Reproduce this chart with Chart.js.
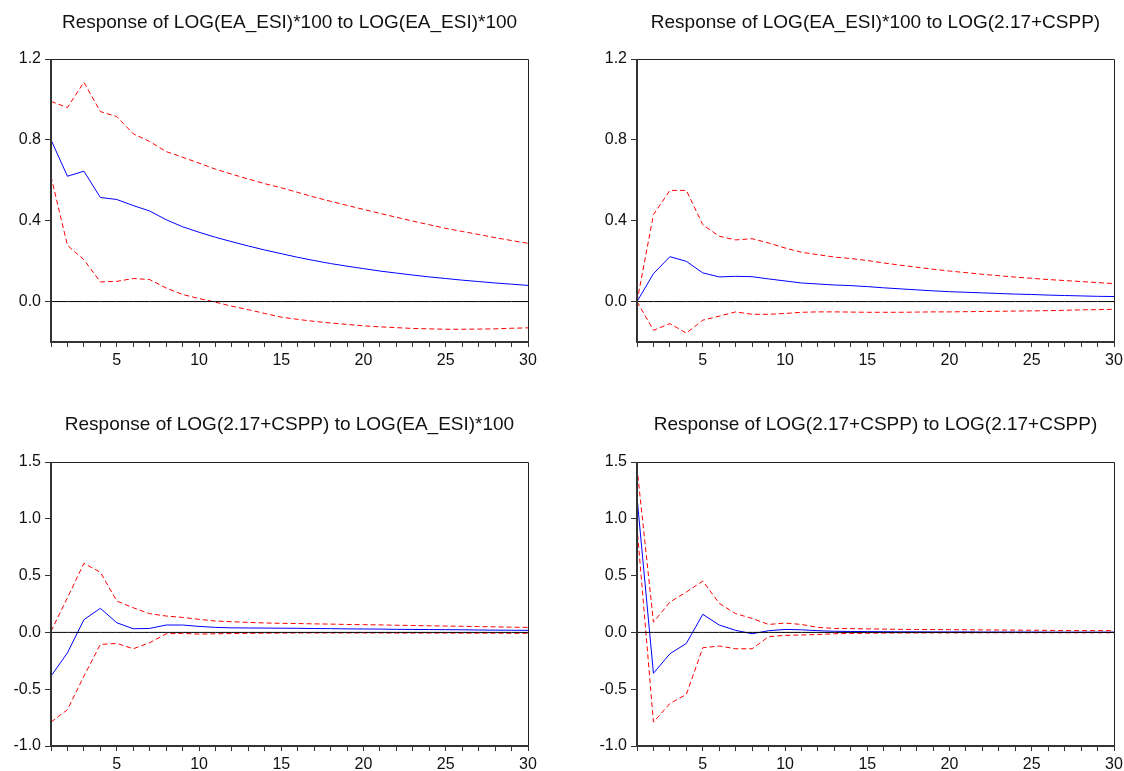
<!DOCTYPE html>
<html>
<head>
<meta charset="utf-8">
<script src="https://cdn.jsdelivr.net/npm/chart.js@4/dist/chart.umd.min.js"></script>
<style>
  body { margin: 0; background: #fff; }
  #page { position: relative; width: 1124px; height: 771px; background: #fff; overflow: hidden; }
  .panel { position: absolute; }
</style>
</head>
<body>
<div id="page"></div>
<script>
// periods of the impulse response
const periods = [1,2,3,4,5,6,7,8,9,10,11,12,13,14,15,16,17,18,19,20,21,22,23,24,25,26,27,28,29,30];

// LOG(EA_ESI)*100 to LOG(EA_ESI)*100
const esiEsiResp = [0.80, 0.62, 0.645, 0.515, 0.505, 0.475, 0.448, 0.405, 0.37, 0.343, 0.318, 0.296, 0.275, 0.255, 0.237, 0.219, 0.203, 0.188, 0.175, 0.163, 0.151, 0.141, 0.131, 0.122, 0.114, 0.106, 0.099, 0.092, 0.086, 0.08];
const esiEsiUpper = [0.99, 0.96, 1.085, 0.94, 0.915, 0.83, 0.792, 0.742, 0.714, 0.685, 0.655, 0.63, 0.606, 0.583, 0.563, 0.54, 0.517, 0.496, 0.476, 0.456, 0.436, 0.417, 0.398, 0.38, 0.362, 0.347, 0.332, 0.316, 0.302, 0.288];
const esiEsiLower = [0.619, 0.278, 0.207, 0.097, 0.10, 0.114, 0.109, 0.067, 0.035, 0.015, -0.003, -0.023, -0.04, -0.059, -0.077, -0.088, -0.098, -0.106, -0.113, -0.12, -0.125, -0.129, -0.133, -0.135, -0.137, -0.137, -0.136, -0.135, -0.132, -0.13];

// LOG(EA_ESI)*100 to LOG(2.17+CSPP)
const esiCsppResp = [0, 0.138, 0.222, 0.199, 0.142, 0.122, 0.125, 0.123, 0.112, 0.102, 0.092, 0.087, 0.082, 0.079, 0.074, 0.068, 0.063, 0.058, 0.053, 0.049, 0.046, 0.043, 0.04, 0.037, 0.035, 0.032, 0.03, 0.028, 0.026, 0.025];
const esiCsppUpper = [0, 0.43, 0.55, 0.55, 0.38, 0.323, 0.305, 0.311, 0.29, 0.265, 0.244, 0.232, 0.22, 0.213, 0.203, 0.191, 0.18, 0.17, 0.16, 0.151, 0.143, 0.135, 0.128, 0.121, 0.115, 0.109, 0.104, 0.099, 0.094, 0.089];
const esiCsppLower = [0, -0.142, -0.109, -0.156, -0.092, -0.072, -0.051, -0.063, -0.063, -0.059, -0.053, -0.051, -0.051, -0.052, -0.053, -0.053, -0.053, -0.052, -0.051, -0.051, -0.05, -0.049, -0.048, -0.047, -0.046, -0.045, -0.043, -0.041, -0.04, -0.038];

// LOG(2.17+CSPP) to LOG(EA_ESI)*100
const csppEsiResp = [-0.385, -0.18, 0.112, 0.212, 0.085, 0.032, 0.035, 0.065, 0.065, 0.053, 0.044, 0.04, 0.039, 0.038, 0.037, 0.036, 0.034, 0.033, 0.031, 0.03, 0.029, 0.027, 0.026, 0.025, 0.024, 0.023, 0.021, 0.02, 0.019, 0.018];
const csppEsiUpper = [0.01, 0.305, 0.608, 0.53, 0.276, 0.217, 0.165, 0.144, 0.132, 0.115, 0.1, 0.094, 0.088, 0.083, 0.08, 0.078, 0.075, 0.073, 0.07, 0.068, 0.066, 0.063, 0.061, 0.058, 0.056, 0.054, 0.051, 0.049, 0.046, 0.044];
const csppEsiLower = [-0.79, -0.68, -0.385, -0.106, -0.097, -0.144, -0.091, -0.012, -0.009, -0.015, -0.012, -0.01, -0.008, -0.007, -0.006, -0.005, -0.005, -0.005, -0.005, -0.005, -0.005, -0.006, -0.006, -0.006, -0.006, -0.007, -0.007, -0.007, -0.008, -0.008];

// LOG(2.17+CSPP) to LOG(2.17+CSPP)
const csppCsppResp = [1.19, -0.36, -0.188, -0.097, 0.159, 0.065, 0.018, -0.012, 0.015, 0.026, 0.023, 0.015, 0.01, 0.008, 0.007, 0.006, 0.005, 0.005, 0.004, 0.004, 0.004, 0.003, 0.003, 0.003, 0.003, 0.002, 0.002, 0.002, 0.002, 0.002];
const csppCsppUpper = [1.45, 0.09, 0.267, 0.355, 0.452, 0.256, 0.165, 0.123, 0.07, 0.082, 0.07, 0.044, 0.035, 0.033, 0.031, 0.029, 0.027, 0.026, 0.025, 0.024, 0.023, 0.022, 0.021, 0.02, 0.019, 0.018, 0.017, 0.016, 0.016, 0.015];
const csppCsppLower = [0.93, -0.79, -0.626, -0.546, -0.135, -0.12, -0.144, -0.144, -0.038, -0.026, -0.023, -0.018, -0.012, -0.009, -0.007, -0.006, -0.005, -0.005, -0.004, -0.004, -0.004, -0.003, -0.003, -0.003, -0.003, -0.003, -0.003, -0.003, -0.003, -0.003];

// y axes
const topRange = [-0.2, 1.2];
const topTicks = [0.0, 0.4, 0.8, 1.2];
const bottomRange = [-1.0, 1.5];
const bottomTicks = [-1.0, -0.5, 0.0, 0.5, 1.0, 1.5];

const titles = [
  'Response of LOG(EA_ESI)*100 to LOG(EA_ESI)*100',
  'Response of LOG(EA_ESI)*100 to LOG(2.17+CSPP)',
  'Response of LOG(2.17+CSPP) to LOG(EA_ESI)*100',
  'Response of LOG(2.17+CSPP) to LOG(2.17+CSPP)'
];

Chart.defaults.font.family = "'Liberation Sans', Arial, sans-serif";
Chart.defaults.color = '#111';

// box round the plot area
const framePlugin = {
  id: 'frame',
  afterDraw(chart) {
    const { ctx, chartArea: a } = chart;
    ctx.save();
    ctx.strokeStyle = '#222';
    ctx.lineWidth = 1;
    ctx.beginPath();
    ctx.moveTo(a.left, a.top + 0.5);
    ctx.lineTo(a.right + 0.5, a.top + 0.5);
    ctx.lineTo(a.right + 0.5, a.bottom);
    ctx.stroke();
    ctx.lineWidth = 2;
    ctx.strokeStyle = '#333';
    ctx.beginPath();
    ctx.moveTo(a.left, a.top);
    ctx.lineTo(a.left, a.bottom);
    ctx.lineTo(a.right + 1, a.bottom);
    ctx.stroke();
    ctx.restore();
  }
};

function addPanel(p) {
  const page = document.getElementById('page');
  const box = document.createElement('div');
  box.className = 'panel';
  box.style.left = p.left + 'px';
  box.style.top = p.top + 'px';
  box.innerHTML = `<canvas width="${p.width}" height="${p.height}"></canvas>`;
  page.appendChild(box);
  const ctx = box.querySelector('canvas').getContext('2d');

  const line = (values, color, dash) => ({
    data: values.map((v, i) => ({ x: periods[i], y: v })),
    borderColor: color,
    borderWidth: 1,
    borderDash: dash,
    pointRadius: 0,
    tension: 0,
    fill: false
  });

  new Chart(ctx, {
    type: 'line',
    data: {
      datasets: [
        line(periods.map(() => 0), '#000', []),
        line(p.upper, '#ff0000', [5, 3]),
        line(p.lower, '#ff0000', [5, 3]),
        line(p.resp, '#0000ff', [])
      ]
    },
    options: {
      responsive: false,
      animation: false,
      layout: { padding: { top: 0, left: 0, right: p.padRight, bottom: 0 } },
      plugins: {
        legend: { display: false },
        tooltip: { enabled: false },
        title: {
          display: true,
          text: p.title,
          fullSize: false,
          color: '#111',
          font: { size: 19, weight: 'normal' },
          padding: { top: p.titleTop, bottom: p.titleBottom }
        }
      },
      scales: {
        x: {
          type: 'linear',
          min: 1,
          max: 30,
          afterBuildTicks: (s) => { s.ticks = periods.map(v => ({ value: v })); },
          afterFit: (s) => {
            s.height = p.height - p.plotBottom;
            s.paddingLeft = 0;
            s.paddingRight = 0;
          },
          ticks: {
            autoSkip: false,
            maxRotation: 0,
            padding: 4,
            font: { size: 16 },
            color: '#111',
            callback: (v) => (v % 5 === 0 ? String(v) : '')
          },
          grid: { drawOnChartArea: false, drawTicks: true, tickLength: 5, color: '#333' },
          border: { display: false }
        },
        y: {
          min: p.range[0],
          max: p.range[1],
          afterBuildTicks: (s) => { s.ticks = p.ticks.map(v => ({ value: v })); },
          afterFit: (s) => { s.width = p.yWidth; },
          ticks: {
            padding: 4,
            font: { size: 16 },
            color: '#111',
            callback: (v) => v.toFixed(1)
          },
          grid: { drawOnChartArea: false, drawTicks: true, tickLength: 6, color: '#333' },
          border: { display: false }
        }
      }
    },
    plugins: [framePlugin]
  });
}

const leftCol = { left: 0, width: 562, yWidth: 51, padRight: 34 };
const rightCol = { left: 562, width: 562, yWidth: 75, padRight: 10 };
const topRow = { top: 0, height: 385, plotBottom: 342, titleTop: 11, titleBottom: 25.2, range: topRange, ticks: topTicks };
const bottomRow = { top: 385, height: 386, plotBottom: 361, titleTop: 28.6, titleBottom: 25.6, range: bottomRange, ticks: bottomTicks };

addPanel({ ...leftCol, ...topRow, title: titles[0], resp: esiEsiResp, upper: esiEsiUpper, lower: esiEsiLower });
addPanel({ ...rightCol, ...topRow, title: titles[1], resp: esiCsppResp, upper: esiCsppUpper, lower: esiCsppLower });
addPanel({ ...leftCol, ...bottomRow, title: titles[2], resp: csppEsiResp, upper: csppEsiUpper, lower: csppEsiLower });
addPanel({ ...rightCol, ...bottomRow, title: titles[3], resp: csppCsppResp, upper: csppCsppUpper, lower: csppCsppLower });
</script>
</body>
</html>
